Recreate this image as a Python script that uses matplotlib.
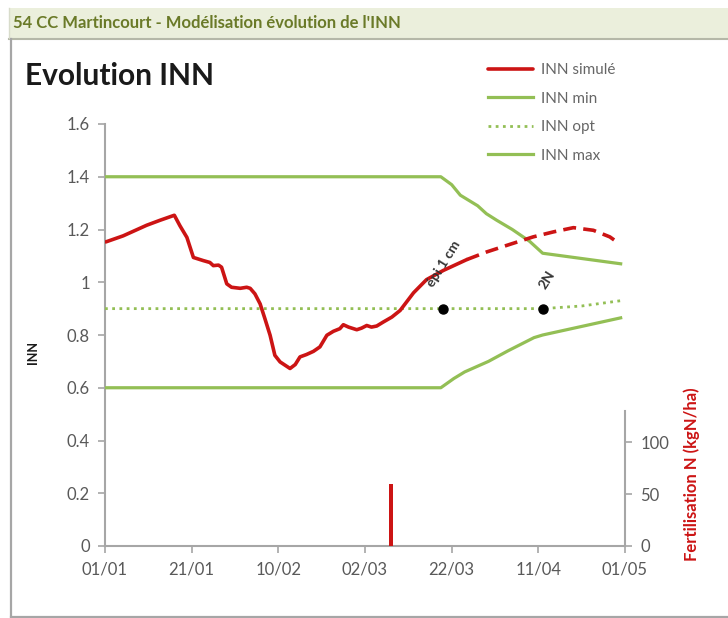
import matplotlib
matplotlib.use("Agg")
import matplotlib.pyplot as plt
from matplotlib.patches import Rectangle
from matplotlib.lines import Line2D

# ---------------- data ----------------
x_tick_days = [0, 20, 40, 60, 80, 100, 120]
x_tick_labels = ["01/01", "21/01", "10/02", "02/03", "22/03", "11/04", "01/05"]
y_ticks = [0, 0.2, 0.4, 0.6, 0.8, 1.0, 1.2, 1.4, 1.6]
y_tick_labels = ["0", "0.2", "0.4", "0.6", "0.8", "1", "1.2", "1.4", "1.6"]
y2_ticks = [0, 50, 100]

sim_days = [0.2, 4.2, 9.6, 12.7, 16.0, 17.3, 18.9, 20.4, 22.7, 24.2, 25.0, 26.2, 26.9,
            28.1, 29.2, 31.2, 32.7, 33.5, 34.6, 35.8, 36.9, 38.1, 39.2, 40.4, 42.7,
            43.9, 45.0, 46.5, 48.1, 49.6, 51.2, 52.7, 54.2, 55.0, 56.2, 58.1, 59.2,
            60.4, 61.5, 62.7, 64.2, 66.2, 68.1, 71.2, 74.2, 78.1, 83.5]
sim_inn = [1.153, 1.176, 1.216, 1.235, 1.254, 1.214, 1.170, 1.094, 1.082, 1.075, 1.063,
           1.065, 1.057, 0.994, 0.981, 0.977, 0.981, 0.977, 0.956, 0.918, 0.862, 0.799,
           0.723, 0.698, 0.673, 0.688, 0.717, 0.726, 0.738, 0.755, 0.799, 0.814, 0.824,
           0.839, 0.830, 0.820, 0.826, 0.836, 0.830, 0.834, 0.849, 0.868, 0.893, 0.960,
           1.010, 1.045, 1.086]

fc_days = [83.5, 88.1, 93.5, 98.8, 103.5, 108.1, 112.7, 116.5, 118.8]
fc_inn = [1.086, 1.115, 1.144, 1.172, 1.191, 1.207, 1.197, 1.172, 1.145]

min_days = [0, 77.5, 80.5, 83.0, 88.5, 93.0, 99.0, 101.0, 119.0]
min_inn = [0.6, 0.6, 0.635, 0.66, 0.70, 0.74, 0.79, 0.80, 0.865]

opt_days = [0, 101.0, 110.0, 119.0]
opt_inn = [0.9, 0.9, 0.91, 0.93]

max_days = [0, 77.5, 80.0, 82.0, 84.0, 86.0, 88.0, 90.4, 94.0, 98.0, 101.0, 110.0, 119.0]
max_inn = [1.4, 1.4, 1.37, 1.33, 1.31, 1.29, 1.26, 1.235, 1.20, 1.155, 1.11, 1.09, 1.07]

stage_days = [78, 101]
stage_inn = [0.9, 0.9]
stage_labels = ["épi 1 cm", "2N"]
stage_label_days = [78.1, 101.9]
stage_label_inn = [1.069, 1.010]

fert_days = [66]
fert_kg = [60]

# ---------------- style ----------------
RED = "#cc1414"
GREEN = "#93bf55"
GRID_GRAY = "#a6a6a6"
TXT = "#595959"
W, H = 728, 618

plt.rcParams["font.family"] = ["Lato", "DejaVu Sans"]

fig = plt.figure(figsize=(W / 100, H / 100), dpi=100)
fig.patch.set_facecolor("white")


def fx(px):
    return px / W


def fy(py):
    return 1 - py / H


# header band
fig.patches.append(Rectangle((fx(9), fy(38)), 1, 30 / H, transform=fig.transFigure,
                             fc="#ebefdc", ec="none", zorder=0))
fig.lines.append(Line2D([fx(9), 1], [fy(38.5), fy(38.5)], transform=fig.transFigure,
                        color="#b5b8a8", lw=1.5))
fig.lines.append(Line2D([fx(9), fx(9)], [fy(8), fy(38)], transform=fig.transFigure,
                        color="#d8dccb", lw=1))
# chart box border
fig.lines.append(Line2D([fx(11), fx(11)], [fy(39), fy(617)], transform=fig.transFigure,
                        color=GRID_GRAY, lw=1.6))
fig.lines.append(Line2D([fx(11), 1], [fy(616.5), fy(616.5)], transform=fig.transFigure,
                        color=GRID_GRAY, lw=1.6))

fig.text(fx(13), fy(23), "54 CC Martincourt - Modélisation évolution de l'INN",
         family=["Lato", "DejaVu Sans"], fontsize=12,
         fontweight="bold", color="#6a7a28", va="center", ha="left")

fig.text(fx(25), fy(85), "Evolution INN", fontsize=21.5, fontweight="bold",
         color="#1a1a1a", va="baseline", ha="left")

# main axes
ax = fig.add_axes([fx(105), fy(546), 520 / W, 422 / H])
ax.set_xlim(0, 120)
ax.set_ylim(0, 1.6)
for s in ["top", "right"]:
    ax.spines[s].set_visible(False)
for s in ["left", "bottom"]:
    ax.spines[s].set_color(GRID_GRAY)
    ax.spines[s].set_linewidth(1.5)
ax.set_xticks(x_tick_days)
ax.set_xticklabels(x_tick_labels)
ax.set_yticks(y_ticks)
ax.set_yticklabels(y_tick_labels)
ax.tick_params(colors=GRID_GRAY, labelcolor=TXT, labelsize=12, length=5, width=1.2,
               direction="out")
ax.tick_params(axis="x", pad=6)
ax.tick_params(axis="y", pad=6)

l_sim, = ax.plot(sim_days, sim_inn, color=RED, lw=2.6, solid_capstyle="round",
                 label="INN simulé", zorder=4)
ax.plot(fc_days, fc_inn, color=RED, lw=2.6, ls=(0, (3.6, 2)), zorder=4)
l_min, = ax.plot(min_days, min_inn, color=GREEN, lw=2.3, label="INN min", zorder=3)
l_opt, = ax.plot(opt_days, opt_inn, color=GREEN, lw=2.0, ls=(0, (1, 1.6)),
                 label="INN opt", zorder=3)
l_max, = ax.plot(max_days, max_inn, color=GREEN, lw=2.3, label="INN max", zorder=3)
ax.plot(stage_days, stage_inn, "o", color="black", ms=6.5, zorder=5)
for d, v, t in zip(stage_label_days, stage_label_inn, stage_labels):
    ax.text(d, v, t, rotation=58, ha="center", va="center", fontsize=10,
            fontweight="bold", color="#333333", zorder=6)

ax.legend([l_sim, l_min, l_opt, l_max], ["INN simulé", "INN min", "INN opt", "INN max"],
          loc="upper left", bbox_to_anchor=(fx(488), fy(63)),
          bbox_transform=fig.transFigure, frameon=False, fontsize=11,
          handlelength=2.95, handletextpad=0.5, labelspacing=0.95,
          borderpad=0, borderaxespad=0, labelcolor="#666666")

fig.text(fx(33), fy(352), "INN", rotation=90, fontsize=9, fontweight="bold",
         color="#1a1a1a", ha="center", va="center")

# secondary axis for fertilisation
ax2 = fig.add_axes([fx(105), fy(546), 520 / W, 135 / H])
ax2.patch.set_alpha(0)
ax2.set_xlim(0, 120)
ax2.set_ylim(0, 130)
for s in ["top", "left", "bottom"]:
    ax2.spines[s].set_visible(False)
ax2.spines["right"].set_color(GRID_GRAY)
ax2.spines["right"].set_linewidth(1.5)
ax2.yaxis.tick_right()
ax2.set_yticks(y2_ticks)
ax2.set_xticks([])
ax2.tick_params(colors=GRID_GRAY, labelcolor=TXT, labelsize=12, length=5, width=1.2,
                direction="out", pad=6)
ax2.bar(fert_days, fert_kg, width=0.9, color=RED, zorder=4)

fig.text(fx(692), fy(474), "Fertilisation N (kgN/ha)", rotation=90, fontsize=12,
         fontweight="bold", color=RED, ha="center", va="center")

fig.savefig("out.png", dpi=100)
